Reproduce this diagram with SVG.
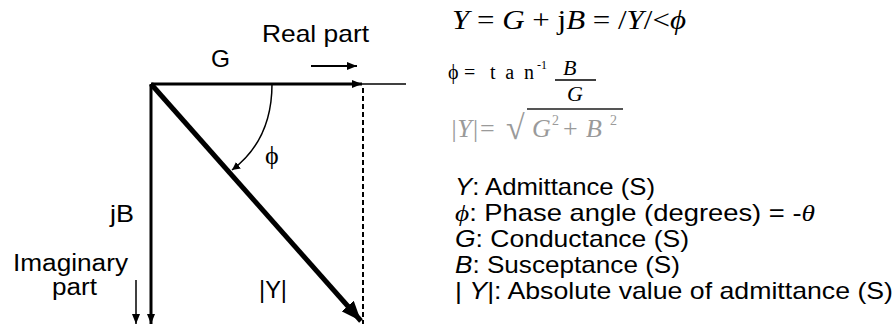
<svg xmlns="http://www.w3.org/2000/svg" width="896" height="324" viewBox="0 0 896 324">
<defs>
<style>
.sans{font-family:"Liberation Sans",Arial,sans-serif;fill:#000}
.serif{font-family:"Liberation Serif","Times New Roman",serif;fill:#000}
.gray{font-family:"Liberation Serif","Times New Roman",serif;fill:#9a9a9a}
.ln{stroke:#000;fill:none}
</style>
<marker id="ahS" viewBox="0 0 10 8" refX="10" refY="4" markerWidth="10" markerHeight="8" markerUnits="userSpaceOnUse" orient="auto"><path d="M0,0 L10,4 L0,8 Z" fill="#000"/></marker>
<marker id="ahB" viewBox="0 0 20 16" refX="20" refY="8" markerWidth="20" markerHeight="16" markerUnits="userSpaceOnUse" orient="auto"><path d="M0,0 L20,8 L0,16 Z" fill="#000"/></marker>
<marker id="ahA" viewBox="0 0 8 8" refX="8" refY="4" markerWidth="8" markerHeight="8" markerUnits="userSpaceOnUse" orient="auto"><path d="M0,0 L8,4 L0,8 Z" fill="#000"/></marker>
</defs>
<rect width="896" height="324" fill="#fff"/>
<g id="connectors">
<line class="ln" x1="151" y1="84" x2="362" y2="84" stroke-width="3" marker-end="url(#ahS)"/>
<line class="ln" x1="362" y1="84" x2="406" y2="84" stroke-width="1.5"/>
<line class="ln" x1="363" y1="88" x2="363" y2="324" stroke-width="2" stroke-dasharray="5,3"/>
<line class="ln" x1="151" y1="84" x2="151" y2="324" stroke-width="3" marker-end="url(#ahS)"/>
<line class="ln" x1="136" y1="280" x2="136" y2="324" stroke-width="1.5" marker-end="url(#ahS)"/>
<line class="ln" x1="151" y1="84" x2="361" y2="321" stroke-width="5" marker-end="url(#ahB)"/>
<path class="ln" d="M272,84 Q272,140 232,170" stroke-width="1.5" marker-end="url(#ahA)"/>
<line class="ln" x1="311" y1="66" x2="357" y2="66" stroke-width="2" marker-end="url(#ahS)"/>
</g>
<g id="labels">
<text class="sans" x="262" y="42" font-size="24" textLength="107" lengthAdjust="spacingAndGlyphs">Real part</text>
<text class="sans" x="211" y="67" font-size="24" textLength="19" lengthAdjust="spacingAndGlyphs">G</text>
<text class="serif" x="265" y="164" font-size="26">ϕ</text>
<text class="sans" x="110" y="222" font-size="24" textLength="24" lengthAdjust="spacingAndGlyphs">jB</text>
<text class="sans" x="13" y="271" font-size="23" textLength="115" lengthAdjust="spacingAndGlyphs">Imaginary</text>
<text class="sans" x="52" y="295" font-size="23" textLength="45" lengthAdjust="spacingAndGlyphs">part</text>
<text class="sans" x="259" y="298" font-size="23" textLength="28" lengthAdjust="spacingAndGlyphs">|Y|</text>
</g>
<g id="equations">
<text class="serif" x="452" y="29" font-size="27" textLength="234" lengthAdjust="spacingAndGlyphs"><tspan font-style="italic">Y</tspan> = <tspan font-style="italic">G</tspan> + j<tspan font-style="italic">B</tspan> = /<tspan font-style="italic">Y</tspan>/&lt;<tspan font-style="italic">ϕ</tspan></text>
<text class="serif" x="448" y="79" font-size="20">ϕ</text>
<text class="serif" x="464" y="79" font-size="20">=</text>
<text class="serif" x="490" y="79" font-size="20" textLength="44" lengthAdjust="spacing">tan</text>
<text class="serif" x="537" y="69" font-size="12">-1</text>
<text class="serif" x="563" y="75" font-size="22" font-style="italic">B</text>
<line class="ln" x1="555" y1="80" x2="596" y2="80" stroke-width="1.5"/>
<text class="serif" x="567" y="101" font-size="22" font-style="italic">G</text>
<text class="gray" x="450" y="137" font-size="26" font-style="italic">|Y|</text>
<text class="gray" x="480" y="137" font-size="26">=</text>
<text class="gray" x="506" y="139" font-size="34">√</text>
<text class="gray" x="532" y="137" font-size="26" font-style="italic">G</text>
<text class="gray" x="552" y="125" font-size="14">2</text>
<text class="gray" x="563" y="137" font-size="26">+</text>
<text class="gray" x="586" y="137" font-size="26" font-style="italic">B</text>
<text class="gray" x="610" y="125" font-size="14">2</text>
<line x1="527" y1="109" x2="623" y2="109" stroke="#555" stroke-width="2"/>
</g>
<g id="legend">
<text class="sans" x="455" y="195" font-size="24" textLength="200" lengthAdjust="spacingAndGlyphs"><tspan font-style="italic">Y</tspan>: Admittance (S)</text>
<text class="sans" x="455" y="221" font-size="24" textLength="360" lengthAdjust="spacingAndGlyphs"><tspan class="serif" font-style="italic">ϕ</tspan>: Phase angle (degrees) = -<tspan class="serif" font-style="italic">θ</tspan></text>
<text class="sans" x="455" y="247" font-size="24" textLength="234" lengthAdjust="spacingAndGlyphs"><tspan font-style="italic">G</tspan>: Conductance (S)</text>
<text class="sans" x="455" y="273" font-size="24" textLength="225" lengthAdjust="spacingAndGlyphs"><tspan font-style="italic">B</tspan>: Susceptance (S)</text>
<text class="sans" x="455" y="299" font-size="24" textLength="438" lengthAdjust="spacingAndGlyphs">| <tspan font-style="italic">Y</tspan>|: Absolute value of admittance (S)</text>
</g>
</svg>
